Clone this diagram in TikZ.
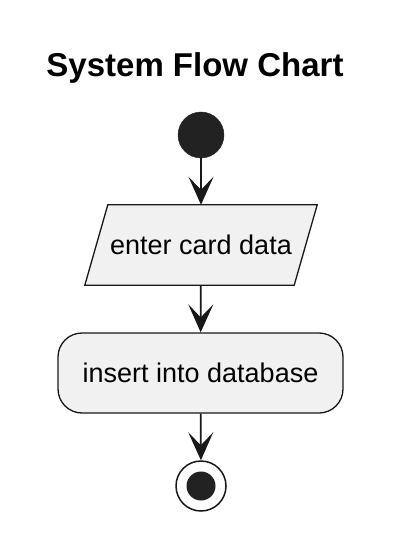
\documentclass[tikz,border=0pt]{standalone}
\usepackage{fontspec}
\setmainfont{Liberation Sans}
\usetikzlibrary{arrows.meta,backgrounds}
\definecolor{boxfill}{HTML}{F1F1F1}
\definecolor{linec}{HTML}{181818}
\definecolor{dotc}{HTML}{222222}
\begin{document}
\begin{tikzpicture}[x=1pt,y=-1pt,
  boxstyle/.style={draw=linec,line width=1.3pt,fill=boxfill},
  lbl/.style={font=\fontsize{27}{32}\selectfont,text=black},
  flow/.style={draw=linec,line width=1.8pt,-{Stealth[length=28pt,width=25pt,inset=13pt]}}]
\useasboundingbox (0,0) rectangle (400,534);
\node[font=\fontsize{33}{38}\selectfont\bfseries,anchor=base] (title) at (195,77) {System Flow Chart};
\node[circle,fill=dotc,draw=dotc,inner sep=0,minimum size=46pt] (start) at (201,135) {};
\node[lbl,minimum width=209pt,minimum height=80pt,inner sep=0] (p) at (201,245) {enter card data};
\begin{scope}[on background layer]
\draw[boxstyle] ([xshift=11.5pt]p.north west) -- ([xshift=11.5pt]p.north east)
  -- ([xshift=-11.5pt]p.south east) -- ([xshift=-11.5pt]p.south west) -- cycle;
\end{scope}
\node[lbl,boxstyle,rounded corners=24pt,minimum width=285pt,minimum height=80pt,inner sep=0] (b) at (200.5,373) {insert into database};
\node[circle,draw=linec,line width=1.5pt,fill=white,inner sep=0,minimum size=50pt] (end) at (201,486) {};
\node[circle,fill=dotc,inner sep=0,minimum size=29pt] (endin) at (end.center) {};
\draw[flow] (start) -- (p);
\draw[flow] (p) -- (b);
\draw[flow] (b) -- (end);
\end{tikzpicture}
\end{document}
